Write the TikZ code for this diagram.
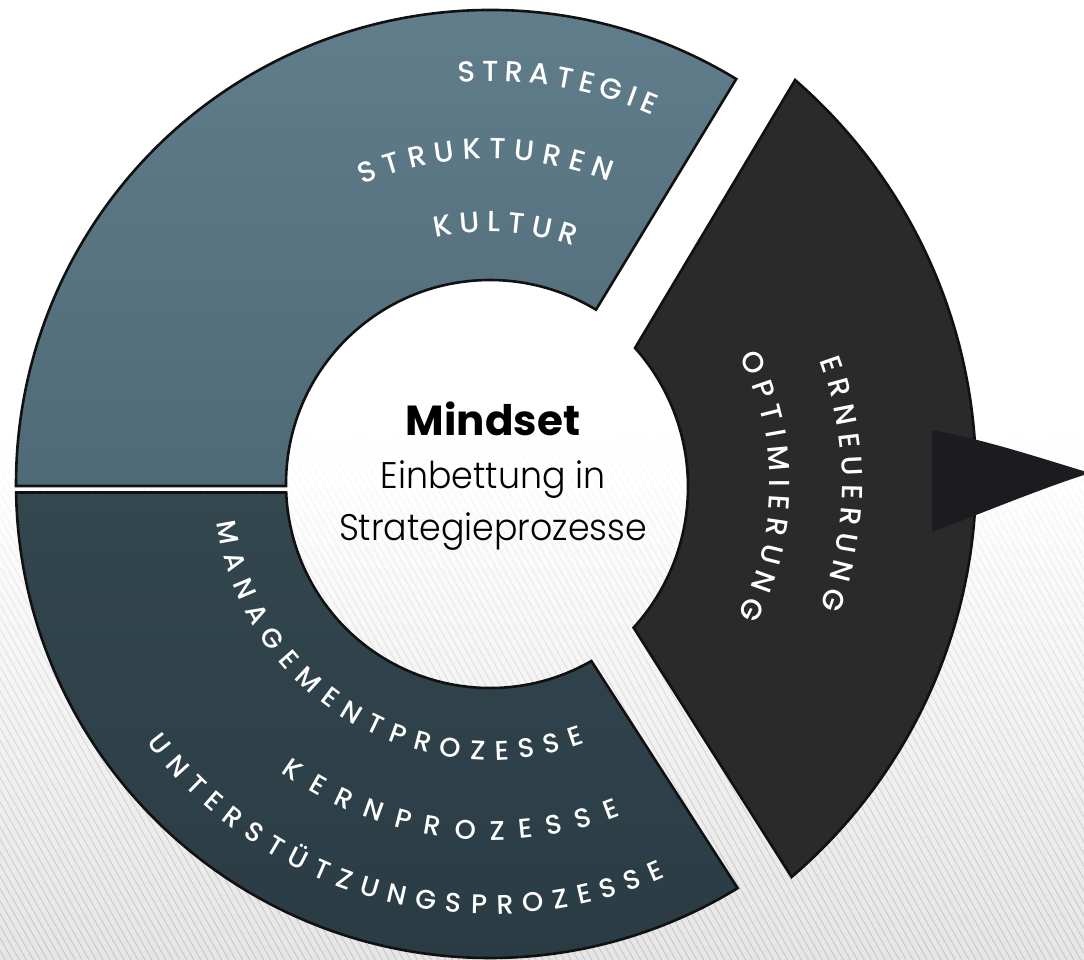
\documentclass[tikz,border=0pt]{standalone}
\usepackage{fontspec}
\setmainfont{Poppins}
\newfontfamily\lightfont{Poppins}[UprightFont={* Light}, FakeStretch=0.94]
\newfontfamily\capsfont{Poppins}[UprightFont={* Medium}]
\usetikzlibrary{decorations.text,fadings,calc}

\definecolor{bluetop}{HTML}{63808E}
\definecolor{bluebot}{HTML}{4F6A77}
\definecolor{slatetop}{HTML}{33474F}
\definecolor{slatebot}{HTML}{2A3B44}
\definecolor{darkcol}{HTML}{2A2A2A}
\definecolor{tipcol}{HTML}{1C1B1F}
\definecolor{bgbottom}{HTML}{E6E6E6}
\definecolor{stripecol}{HTML}{C9C9C9}
\definecolor{edgecol}{HTML}{111111}

\tikzfading[name=stripefade, top color=transparent!100, bottom color=transparent!0]

\newcommand\topfont{\capsfont\fontsize{29}{29}\selectfont}
\newcommand\lowfont{\capsfont\fontsize{27}{27}\selectfont}
\newcommand\sidefont{\capsfont\fontsize{29}{29}\selectfont}

\tikzset{
  segment/.style={draw=edgecol, line width=2.6pt, line join=miter},
  stripe/.style={draw=stripecol, line width=1pt},
  ringtext/.style={decorate, decoration={text along path, text color=white,
      text align={fit to path}, text={#1}}},
  centertext/.style={anchor=base, text=black},
}

\begin{document}
\begin{tikzpicture}[x=1pt, y=1pt]
\useasboundingbox (0,0) rectangle (1084,-960);

% paper background with a woven texture towards the bottom
\shade[top color=white, bottom color=bgbottom, middle color=white] (0,0) rectangle (1084,-960);
\draw[stripe, path fading=stripefade]
  foreach \x in {-320,-313,...,1090} {(\x,-430) -- ++(300,-530)};

% upper ring segment
\path[segment, top color=bluetop, bottom color=bluebot, shift={(490,-484)}]
  (58.7:204) -- (58.7:474)
  arc[start angle=58.7, end angle=180.24, radius=474]
  -- (180.56:204)
  arc[start angle=180.56, end angle=58.7, radius=204] -- cycle;

% lower ring segment
\path[segment, top color=slatetop, bottom color=slatebot, shift={(490,-484)}]
  (181.03:474)
  arc[start angle=181.03, end angle=301.5, radius=474]
  -- (299.8:204)
  arc[start angle=299.8, end angle=182.39, radius=204] -- cycle;

% right segment with its arrow
\coordinate (outc) at (450,-477);
\coordinate (innc) at (479,-487);
\path[segment, fill=darkcol]
  ($(outc)+(49:526)$)
  arc[start angle=49, end angle=-49.5, radius=526]
  -- ($(innc)+(-42.3:209)$)
  arc[start angle=-42.3, end angle=41.7, radius=209] -- cycle;
\fill[tipcol] (932,-430) .. controls (990,-441) and (1040,-458) .. (1090,-473)
  .. controls (1040,-489) and (990,-510) .. (932,-532) -- cycle;

% labels along the ring
\begin{scope}[shift={(490,-484)}]
  \path[ringtext={|\topfont|STRATEGIE}]
    (94.5:403) arc[start angle=94.5, end angle=66.3, radius=403];
  \path[ringtext={|\topfont|STRUKTUREN}]
    (113:325) arc[start angle=113, end angle=68.5, radius=325];
  \path[ringtext={|\topfont|KULTUR}]
    (102.5:252) arc[start angle=102.5, end angle=70.5, radius=252];

  \path[ringtext={|\lowfont|MANAGEMENTPROZESSE}]
    (188:276) arc[start angle=188, end angle=290, radius=276];
  \path[ringtext={|\lowfont|KERNPROZESSE}]
    (234:356) arc[start angle=234, end angle=291.5, radius=356];
  \path[ringtext={|\lowfont|UNTERSTÜTZUNGSPROZESSE}]
    (217:430) arc[start angle=217, end angle=294, radius=430];

  \path[ringtext={|\sidefont|ERNEUERUNG}]
    (20.5:352) arc[start angle=20.5, end angle=-20.5, radius=352];
  \path[ringtext={|\sidefont|OPTIMIERUNG}]
    (27:280) arc[start angle=27, end angle=-28, radius=280];
\end{scope}

% centre text
\node[centertext, font=\fontsize{42}{42}\selectfont\bfseries] (mindset) at (493,-435) {Mindset};
\node[centertext, font=\lightfont\fontsize{37}{37}\selectfont] (einb) at (493,-488) {Einbettung in};
\node[centertext, font=\lightfont\fontsize{37}{37}\selectfont] (strat) at (493,-540) {Strategieprozesse};
\end{tikzpicture}
\end{document}
